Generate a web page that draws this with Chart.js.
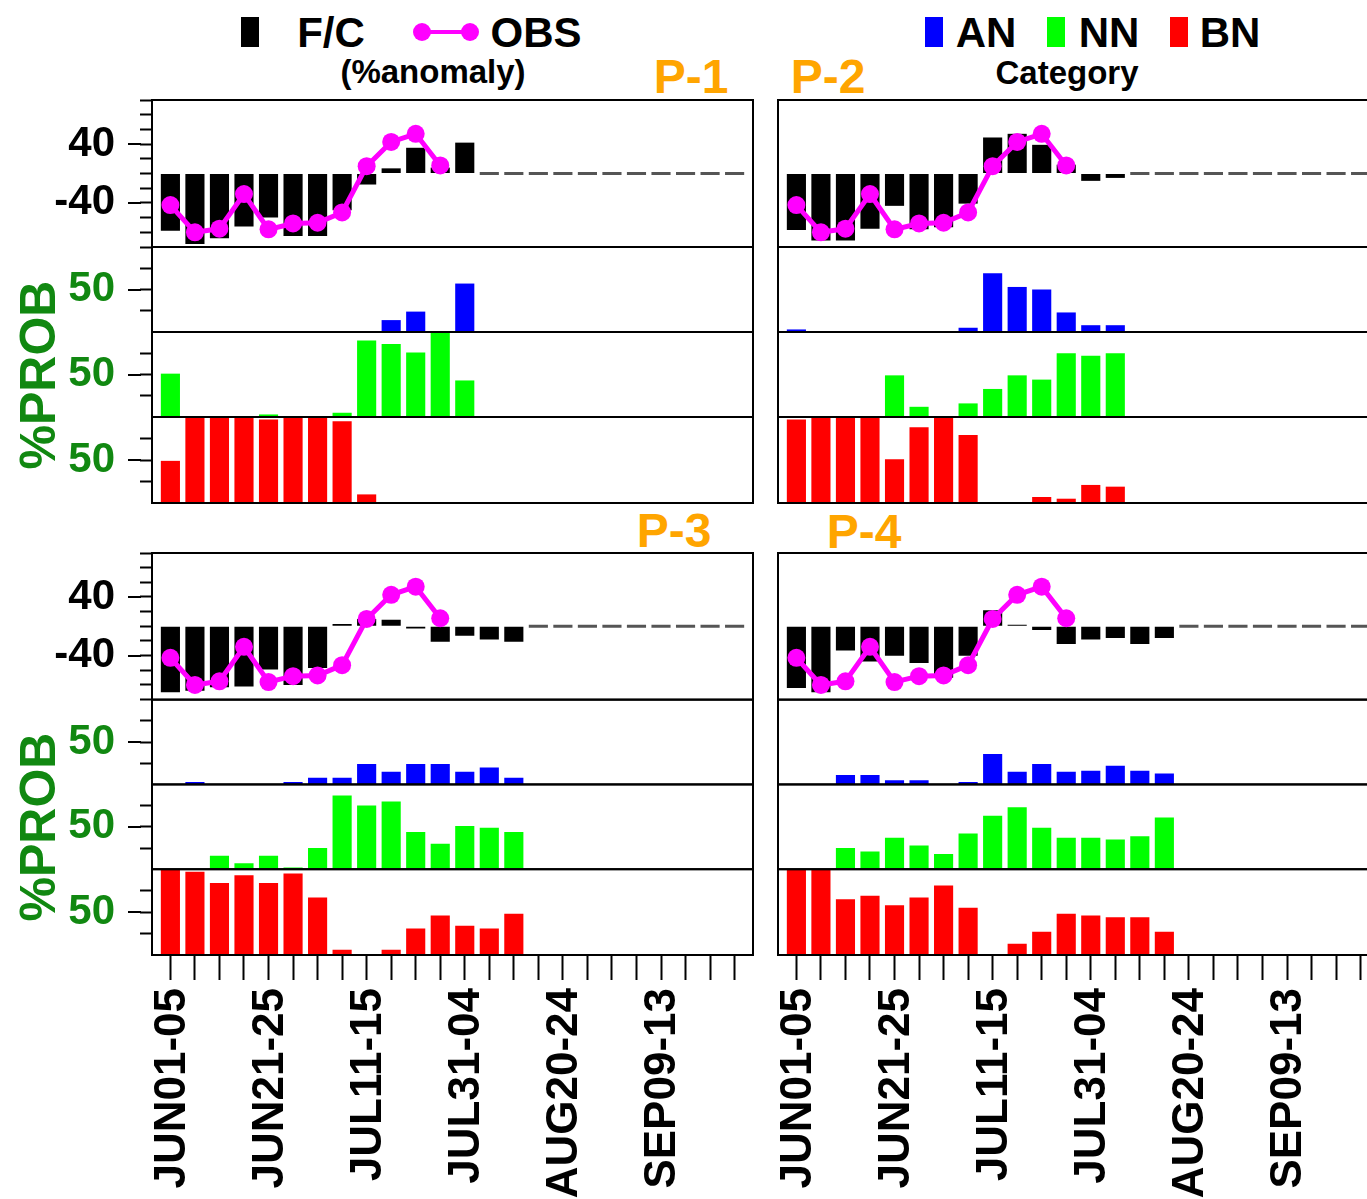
<!DOCTYPE html>
<html>
<head>
<meta charset="utf-8">
<title>Pentad rainfall forecast: F/C anomaly and category probabilities</title>
<script src="https://cdn.jsdelivr.net/npm/chart.js@4.4.1/dist/chart.umd.min.js"></script>
<style>
  html, body { margin: 0; padding: 0; background: #fff; }
  body {
    position: relative; width: 1367px; height: 1199px; overflow: hidden;
    font-family: "Liberation Sans", Arial, Helvetica, sans-serif; font-weight: bold; color: #000;
  }
  canvas { position: absolute; }
  .t { position: absolute; line-height: 1; white-space: nowrap; text-align: center; width: 240px; }
  .sw { position: absolute; width: 18px; height: 30px; top: 17px; }
  .pl { color: #ffa500; font-size: 48px; }
  .prob { position: absolute; line-height: 1; white-space: nowrap; color: #118811; font-size: 50px;
          transform: translate(-50%, -50%) rotate(-90deg); }
  .dot { position: absolute; width: 18px; height: 18px; border-radius: 50%; background: #ff00ff; top: 23px; }
</style>
</head>
<body>

<!-- legend: forecast anomaly / observation -->
<div class="sw" style="left:241px;background:#000"></div>
<div class="t" style="left:211px;top:11.5px;font-size:42px">F/C</div>
<div style="position:absolute;left:415px;top:30px;width:62px;height:4px;background:#ff00ff"></div>
<div class="dot" style="left:413px"></div>
<div class="dot" style="left:461px"></div>
<div class="t" style="left:416px;top:11.5px;font-size:42px">OBS</div>
<div class="t" style="left:313px;top:55px;font-size:33px">(%anomaly)</div>

<!-- legend: probability categories -->
<div class="sw" style="left:925px;background:#0000ff"></div>
<div class="t" style="left:866px;top:11.5px;font-size:42px">AN</div>
<div class="sw" style="left:1047px;background:#00ff00"></div>
<div class="t" style="left:989px;top:11.5px;font-size:42px">NN</div>
<div class="sw" style="left:1170px;background:#ff0000"></div>
<div class="t" style="left:1110px;top:11.5px;font-size:42px">BN</div>
<div class="t" style="left:947px;top:56px;font-size:33px">Category</div>

<!-- panel titles -->
<div class="t pl" style="left:571px;top:52.6px">P-1</div>
<div class="t pl" style="left:708px;top:52.6px">P-2</div>
<div class="t pl" style="left:554px;top:506.6px">P-3</div>
<div class="t pl" style="left:744px;top:507.6px">P-4</div>

<div class="prob" style="left:38px;top:375px">%PROB</div>
<div class="prob" style="left:38px;top:827px">%PROB</div>

<canvas id="p1" width="800" height="513" style="left:0;top:45px"></canvas>
<canvas id="p2" width="730" height="513" style="left:700px;top:45px"></canvas>
<canvas id="p3" width="800" height="701" style="left:0;top:498px"></canvas>
<canvas id="p4" width="730" height="701" style="left:700px;top:498px"></canvas>

<script>
// Pentads (5-day periods), June to September
const pentads = [
  'JUN01-05', 'JUN06-10', 'JUN11-15', 'JUN16-20', 'JUN21-25', 'JUN26-30',
  'JUL01-05', 'JUL06-10', 'JUL11-15', 'JUL16-20', 'JUL21-25', 'JUL26-30',
  'JUL31-04', 'AUG05-09', 'AUG10-14', 'AUG15-19', 'AUG20-24', 'AUG25-29',
  'AUG30-03', 'SEP04-08', 'SEP09-13', 'SEP14-18', 'SEP19-23', 'SEP24-28'
];

// Observed rainfall anomaly (%)
const obsAnom = [-43, -80, -75, -28, -76, -68, -67, -53, 10, 43, 54, 11];

// P-1 forecast anomaly (%) and category probabilities (%)
const p1Fc = [-78, -96, -88, -72, -60, -85, -85, -50, -15, 7, 35, 8, 42];
const p1An = [0, 0, 0, 0, 0, 0, 0, 0, 0, 14, 24, 0, 57];
const p1Nn = [51, 0, 0, 0, 3, 0, 0, 5, 90, 86, 76, 99, 43];
const p1Bn = [49, 100, 100, 100, 97, 100, 100, 95, 10, 0, 0, 0, 0];

// P-2
const p2Fc = [-77, -91, -91, -75, -44, -76, -73, -41, 49, 54, 39, 12, -10, -6];
const p2An = [3, 0, 0, 0, 0, 0, 0, 5, 69, 53, 50, 23, 8, 8];
const p2Nn = [0, 0, 0, 0, 49, 12, 0, 16, 33, 49, 44, 75, 72, 75];
const p2Bn = [97, 100, 100, 100, 51, 88, 100, 79, 0, 0, 7, 5, 21, 19];

// P-3
const p3Fc = [-90, -88, -83, -82, -59, -80, -57, 3, 10, 9, -3, -21, -13, -18, -21];
const p3An = [0, 3, 0, 0, 0, 3, 8, 8, 24, 15, 24, 24, 15, 20, 8];
const p3Nn = [0, 0, 16, 7, 16, 2, 25, 87, 75, 80, 44, 30, 51, 49, 44];
const p3Bn = [100, 97, 84, 93, 84, 95, 67, 6, 1, 6, 31, 46, 34, 31, 48];

// P-4
const p4Fc = [-84, -90, -33, -48, -40, -50, -70, -40, 22, 2, -5, -24, -18, -16, -24, -16];
const p4An = [0, 0, 11, 11, 5, 5, 0, 3, 36, 15, 24, 15, 16, 22, 16, 13];
const p4Nn = [0, 0, 25, 21, 37, 28, 18, 42, 63, 73, 49, 37, 37, 35, 39, 61];
const p4Bn = [100, 100, 65, 69, 58, 67, 81, 55, 1, 13, 27, 48, 46, 44, 44, 27];

// Axis ticks
const anomTicks = [-100, -80, -60, -40, -20, 0, 20, 40, 60, 80, 100];
const anomLabels = [-40, 40];
const probTicks = [0, 25, 50, 75, 100];
const probLabels = [50];
const xLabelEvery = 4;

const FONT = { family: '"Liberation Sans", Arial, Helvetica, sans-serif', size: 42, weight: 'bold' };
const X_FONT = { family: FONT.family, size: 44, weight: 'bold' };
const GREEN_TEXT = '#118811';
const PAD = 55;

Chart.defaults.font.family = FONT.family;
Chart.defaults.font.weight = 'bold';

const xy = arr => arr.map((v, i) => ({ x: i, y: v }));
// pentads without a forecast are marked by a flat grey dash at zero
const noForecast = fc => pentads.map((_, i) => ({ x: i, y: i >= fc.length ? 0 : null }));

// frame around every row, plus longer ticks at labelled values
const panelFrame = {
  id: 'panelFrame',
  afterDraw(chart, args, opts) {
    const { ctx, chartArea } = chart;
    ctx.save();
    ctx.strokeStyle = '#000';
    ctx.lineWidth = 2;
    for (const id of ['anom', 'an', 'nn', 'bn']) {
      const s = chart.scales[id];
      ctx.strokeRect(chartArea.left, s.top, chartArea.right - chartArea.left, s.bottom - s.top);
      if (opts.major) {
        const vals = id === 'anom' ? anomLabels : probLabels;
        for (const v of vals) {
          const y = Math.round(s.getPixelForValue(v));
          ctx.beginPath();
          ctx.moveTo(chartArea.left - 24, y);
          ctx.lineTo(chartArea.left - 11, y);
          ctx.stroke();
        }
      }
    }
    ctx.restore();
  }
};

function yAxis(values, labelled, colour, weight, withY, hideEnds) {
  return {
    type: 'linear', position: 'left', stack: 'rows', stackWeight: weight,
    min: values[0], max: values[values.length - 1],
    afterBuildTicks: s => { s.ticks = values.map(v => ({ value: v })); },
    ticks: {
      display: withY, autoSkip: false, padding: 25, color: colour, font: FONT,
      callback: v => (labelled.includes(v) ? String(v) : '')
    },
    grid: {
      drawOnChartArea: false, drawTicks: withY, tickLength: 12, tickWidth: 2,
      tickColor: c => (hideEnds && (c.tick.value === values[0] || c.tick.value === values[values.length - 1])) ? 'rgba(0,0,0,0)' : '#000'
    },
    border: { display: true, color: '#000', width: 2 },
    afterFit: s => { s.width = withY ? 152 : 78; }
  };
}

function drawPanel(id, fc, an, nn, bn, withY, withX) {
  const padding = {
    left: 0,
    right: withY ? 47 : 51,
    top: PAD,
    bottom: withX ? 0 : PAD
  };
  return new Chart(document.getElementById(id), {
    type: 'bar',
    data: {
      datasets: [
        {
          type: 'line', label: 'OBS', data: xy(obsAnom), xAxisID: 'x', yAxisID: 'anom',
          borderColor: '#ff00ff', backgroundColor: '#ff00ff', borderWidth: 5,
          pointRadius: 9, pointHoverRadius: 9, pointBorderWidth: 0,
          pointBackgroundColor: '#ff00ff', tension: 0, fill: false, order: 0, clip: false
        },
        { label: 'F/C', data: xy(fc), yAxisID: 'anom', backgroundColor: '#000', order: 1 },
        { label: 'no F/C', data: noForecast(fc), yAxisID: 'anom', backgroundColor: '#555', minBarLength: 3, order: 1 },
        { label: 'AN', data: xy(an), yAxisID: 'an', backgroundColor: '#0000ff', order: 1 },
        { label: 'NN', data: xy(nn), yAxisID: 'nn', backgroundColor: '#00ff00', order: 1 },
        { label: 'BN', data: xy(bn), yAxisID: 'bn', backgroundColor: '#ff0000', order: 1 }
      ]
    },
    options: {
      responsive: false, animation: false, devicePixelRatio: 1,
      layout: { padding },
      datasets: { bar: { grouped: false, barPercentage: 0.78, categoryPercentage: 1, borderWidth: 0 } },
      plugins: { legend: { display: false }, tooltip: { enabled: false }, panelFrame: { major: withY } },
      scales: {
        x: {
          type: 'linear', position: 'bottom', display: withX, offset: false,
          min: -0.75, max: pentads.length - 0.25,
          afterBuildTicks: s => { s.ticks = pentads.map((_, i) => ({ value: i })); },
          ticks: {
            autoSkip: false, minRotation: 90, maxRotation: 90, padding: 8, labelOffset: 2,
            color: '#000', font: X_FONT,
            callback: v => (v % xLabelEvery === 0 ? pentads[v] : '')
          },
          grid: { offset: false, drawOnChartArea: false, tickLength: 25, tickWidth: 2, tickColor: '#000' },
          border: { display: false },
          afterFit: s => { s.height = withX ? 244 : 0; }
        },
        bn: yAxis(probTicks, probLabels, GREEN_TEXT, 86, withY, true),
        nn: yAxis(probTicks, probLabels, GREEN_TEXT, 85, withY, true),
        an: yAxis(probTicks, probLabels, GREEN_TEXT, 85, withY, true),
        anom: yAxis(anomTicks, anomLabels, '#000', 147, withY, false)
      }
    },
    plugins: [panelFrame]
  });
}

drawPanel('p1', p1Fc, p1An, p1Nn, p1Bn, true, false);
drawPanel('p2', p2Fc, p2An, p2Nn, p2Bn, false, false);
drawPanel('p3', p3Fc, p3An, p3Nn, p3Bn, true, true);
drawPanel('p4', p4Fc, p4An, p4Nn, p4Bn, false, true);
</script>
</body>
</html>
